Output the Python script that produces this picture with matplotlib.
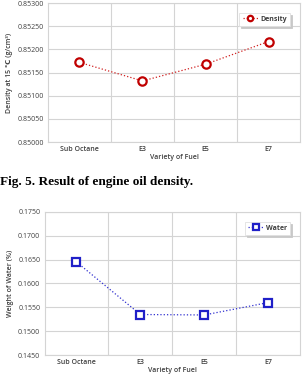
import matplotlib
matplotlib.use("Agg")
import matplotlib.pyplot as plt

fuels = ["Sub Octane", "E3", "E5", "E7"]
density = [0.85172, 0.85132, 0.85168, 0.85217]
water = [0.1645, 0.1535, 0.1534, 0.1560]

density_ticks = [0.85000, 0.85050, 0.85100, 0.85150, 0.85200, 0.85250, 0.85300]
water_ticks = [0.1450, 0.1500, 0.1550, 0.1600, 0.1650, 0.1700, 0.1750]

plt.rcParams['font.family'] = ['Open Sans', 'DejaVu Sans']
grid_col = "#d4d4d4"
txt_col = "#404040"

fig = plt.figure(figsize=(3.05, 3.81), dpi=100)


def style_axis(ax, ticks, fmt, ylabel):
    x = list(range(len(fuels)))
    ax.set_xlim(-0.5, len(fuels) - 0.5)
    ax.set_ylim(ticks[0], ticks[-1])
    ax.set_yticks(ticks)
    ax.set_yticklabels([fmt.format(t) for t in ticks], fontsize=5, color=txt_col)
    ax.set_xticks(x)
    ax.set_xticklabels(fuels, fontsize=5, color=txt_col, fontweight="semibold")
    # category boundaries as vertical grid
    ax.set_xticks([i + 0.5 for i in x[:-1]], minor=True)
    ax.grid(True, which="minor", axis="x", color=grid_col, lw=0.8)
    ax.grid(True, which="major", axis="y", color=grid_col, lw=0.8)
    ax.tick_params(which="both", length=0, pad=3)
    for s in ax.spines.values():
        s.set_color(grid_col)
        s.set_linewidth(0.8)
    ax.set_xlabel("Variety of Fuel", fontsize=5, color=txt_col, labelpad=0.5, fontweight="semibold")
    ax.set_ylabel(ylabel, fontsize=5, color=txt_col, labelpad=3, fontweight="semibold")
    ax.set_axisbelow(True)


def add_legend(ax):
    leg = ax.legend(loc="upper right", fontsize=5, frameon=True,
                    shadow={"color": "#c8c8c8", "alpha": 1.0, "ox": 1.5, "oy": -1.5},
                    fancybox=False, handlelength=2.2, borderpad=0.45,
                    markerscale=0.65, handletextpad=0.4,
                    bbox_to_anchor=(0.975, 0.955))
    leg.get_frame().set_edgecolor("#e0e0e0")
    leg.get_frame().set_linewidth(0.6)
    for t in leg.get_texts():
        t.set_fontweight("bold")
        t.set_color(txt_col)


ax1 = fig.add_axes([0.157, 0.627, 0.827, 0.365])
ax1.plot(range(len(fuels)), density, ls=":", lw=0.9, color="#d02020",
         marker="o", ms=6, mfc="white", mec="#c00000", mew=1.6, label="Density")
style_axis(ax1, density_ticks, "{:.5f}", "Density at 15 \u2103 (g/cm\u00b3)")
add_legend(ax1)

fig.text(0.0, 0.522, "Fig. 5. Result of engine oil density.", fontsize=9.5,
         fontweight="bold", family="Liberation Serif", va="center", ha="left")

ax2 = fig.add_axes([0.146, 0.068, 0.838, 0.376])
ax2.plot(range(len(fuels)), water, ls=":", lw=0.9, color="#3030d0",
         marker="s", ms=6, mfc="white", mec="#2020c8", mew=1.6, label="Water")
style_axis(ax2, water_ticks, "{:.4f}", "Weight of Water (%)")
add_legend(ax2)

fig.savefig("out.png", dpi=100)
